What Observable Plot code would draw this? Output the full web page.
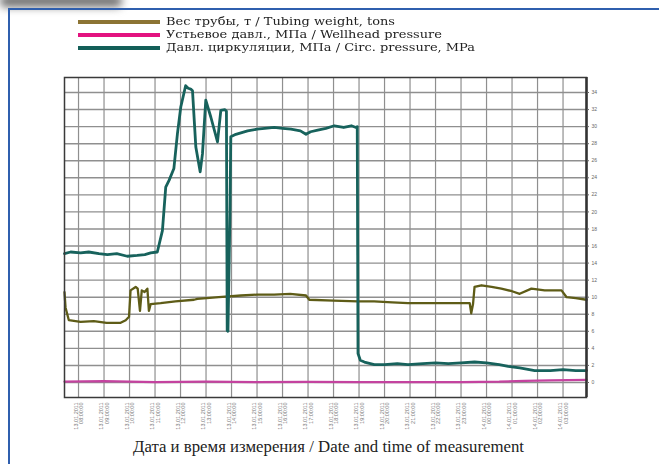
<!DOCTYPE html>
<html><head><meta charset="utf-8">
<script src="https://cdn.jsdelivr.net/npm/d3@7"></script>
<script src="https://cdn.jsdelivr.net/npm/@observablehq/plot@0.6"></script>
<style>
body{margin:0;background:#fff;width:659px;height:464px;overflow:hidden;position:relative;font-family:"Liberation Serif","Times New Roman",serif}
#tab{position:absolute;left:0px;top:-5px;width:122px;height:12px;background:#6f6f6f;filter:blur(4px);border-radius:5px}
#border{position:absolute;left:8px;top:8px;width:660px;height:470px;border-top:2px solid #2f5fae;border-left:2px solid #2f5fae}
#legend{height:62px;padding-top:15px;box-sizing:border-box;position:relative}
.row{display:flex;align-items:center;height:13px;white-space:nowrap}
.sw{display:inline-block;width:82px;height:4px;margin-left:78px;margin-right:6px;flex:none}
.lt{display:inline-block;font-family:"DejaVu Serif",serif;font-size:11px;line-height:12px;color:#222;transform-origin:0 50%}
#chart{position:relative}
#caption{text-align:center;font-size:16.8px;line-height:14px;color:#222;width:659px;position:relative;left:-1px}
</style></head>
<body>
<div id="tab"></div>
<div id="border"></div>
<div id="legend"></div>
<div id="chart"></div>
<div id="caption">Дата и время измерения / Date and time of measurement</div>
<script>
// Legend
const seriesNames = ["Вес трубы, т / Tubing weight, tons", "Устьевое давл., МПа / Wellhead pressure", "Давл. циркуляции, МПа / Circ. pressure, MPa"];
const legendColors = ["#8c7434", "#e3127f", "#135f58"];
const lineColors = ["#5e5c17", "#c4439f", "#17625c"];

// X tick labels (date / time of measurement)
const dateLabels = ["13.01.2011","13.01.2011","13.01.2011","13.01.2011","13.01.2011","13.01.2011","13.01.2011","13.01.2011","13.01.2011","13.01.2011","13.01.2011","13.01.2011","13.01.2011","13.01.2011","13.01.2011","13.01.2011","14.01.2011","14.01.2011","14.01.2011","14.01.2011"];
const timeLabels = ["08:00:00","09:00:00","10:00:00","11:00:00","12:00:00","13:00:00","14:00:00","15:00:00","16:00:00","17:00:00","18:00:00","19:00:00","20:00:00","21:00:00","22:00:00","23:00:00","00:00:00","01:00:00","02:00:00","03:00:00"];
const yTicks = [0,2,4,6,8,10,12,14,16,18,20,22,24,26,28,30,32,34];

// Circulation pressure, MPa (time in label-slot units)
const circT = [-0.55,-0.31,0.08,0.4,0.8,1.13,1.5,1.91,2.3,2.6,2.83,3.09,3.29,3.42,3.55,3.74,3.88,4.01,4.2,4.3,4.4,4.47,4.6,4.77,4.86,4.99,5.19,5.45,5.58,5.74,5.8,5.83,5.86,5.94,5.97,6.17,6.4,6.63,7.0,7.3,7.67,8.0,8.33,8.7,8.92,9.1,9.38,9.7,10.03,10.4,10.7,10.88,10.93,10.96,11.05,11.21,11.6,12.0,12.5,12.92,13.5,14.0,14.5,15.0,15.53,16.0,16.5,16.85,17.3,17.89,18.5,19.0,19.5,19.92];
const circV = [15.1,15.3,15.2,15.3,15.1,15.0,15.1,14.8,14.9,15.0,15.2,15.3,17.8,22.9,23.7,25.1,29.2,32.3,34.8,34.5,34.4,34.2,27.6,24.7,26.8,33.1,31.1,28.2,31.9,32.0,31.8,6.1,6.0,20.0,28.8,29.1,29.3,29.5,29.7,29.8,29.9,29.8,29.7,29.5,29.1,29.4,29.6,29.8,30.1,29.9,30.1,29.9,30.0,3.4,2.6,2.4,2.1,2.1,2.2,2.1,2.2,2.3,2.2,2.3,2.4,2.3,2.1,1.9,1.7,1.4,1.4,1.5,1.4,1.4];

// Tubing weight, tons
const wtT = [-0.55,-0.51,-0.38,0.08,0.6,1.1,1.65,1.85,1.98,2.04,2.24,2.32,2.41,2.48,2.59,2.7,2.76,2.83,3.22,3.8,4.53,4.66,5.5,6.37,7.0,7.67,8.3,8.92,9.05,10.0,10.95,11.59,12.3,12.92,14.0,15.34,15.4,15.47,15.53,15.8,16.2,16.58,17.0,17.3,17.76,18.28,18.94,19.14,19.5,19.92];
const wtV = [10.6,8.8,7.3,7.1,7.2,7.0,7.0,7.3,7.7,10.8,11.2,11.0,8.4,10.8,10.6,11.0,8.4,9.2,9.3,9.5,9.7,9.8,10.0,10.2,10.3,10.3,10.4,10.2,9.7,9.6,9.5,9.5,9.4,9.3,9.3,9.3,8.1,9.2,11.2,11.4,11.2,11.0,10.7,10.4,11.0,10.8,10.8,10.0,9.9,9.7];

// Wellhead pressure, MPa
const whT = [-0.55,1.0,3.0,5.0,7.0,9.0,11.0,13.0,15.0,16.5,17.5,18.5,19.92];
const whV = [0.1,0.15,0.05,0.1,0.05,0.08,0.05,0.05,0.05,0.1,0.2,0.25,0.3];

const legend = document.getElementById("legend");
const texts = [];
seriesNames.forEach((n, i) => {
  const r = document.createElement("div"); r.className = "row";
  const s = document.createElement("span"); s.className = "sw"; s.style.background = legendColors[i];
  const t = document.createElement("span"); t.className = "lt"; t.textContent = n;
  r.appendChild(s); r.appendChild(t); legend.appendChild(r); texts.push(t);
});
const k = 229 / texts[0].getBoundingClientRect().width;
texts.forEach(t => t.style.transform = `scaleX(${k})`);

const circ = circT.map((t, i) => ({t, v: circV[i]}));
const wt = wtT.map((t, i) => ({t, v: wtV[i]}));
const wh = whT.map((t, i) => ({t, v: whV[i]}));

const chart = Plot.plot({
  width: 659, height: 378,
  marginLeft: 64, marginRight: 73, marginTop: 15, marginBottom: 43,
  x: {domain: [-0.55, 19.92], label: null},
  y: {domain: [-1.76, 35.76], label: null},
  style: {background: "transparent", overflow: "visible", fontFamily: "Liberation Sans, Arial, sans-serif"},
  marks: [
    Plot.gridX(d3.range(20), {stroke: "#8f8f8f", strokeOpacity: 1, strokeWidth: 1.2}),
    Plot.gridY(yTicks, {stroke: "#8f8f8f", strokeOpacity: 1, strokeWidth: 1.4}),
    Plot.line(wh, {x: "t", y: "v", stroke: lineColors[1], strokeWidth: 2.2}),
    Plot.line(wt, {x: "t", y: "v", stroke: lineColors[0], strokeWidth: 2.3}),
    Plot.line(circ, {x: "t", y: "v", stroke: lineColors[2], strokeWidth: 2.8}),
    Plot.frame({stroke: "#3a3a3a", strokeWidth: 1.5}),
    Plot.ruleX([19.92], {stroke: "#333", strokeWidth: 2.5}),
    Plot.axisY(yTicks, {anchor: "right", label: null, tickSize: 2, tickPadding: 3, fontSize: 5, fill: "#666", stroke: "#666"}),
    Plot.axisX(d3.range(20), {anchor: "bottom", label: null, tickFormat: i => dateLabels[i] + "\n" + timeLabels[i], tickRotate: -90, tickSize: 0, tickPadding: 5, fontSize: 5.5, fill: "#777"})
  ]
});
document.getElementById("chart").appendChild(chart);
</script>
</body></html>
